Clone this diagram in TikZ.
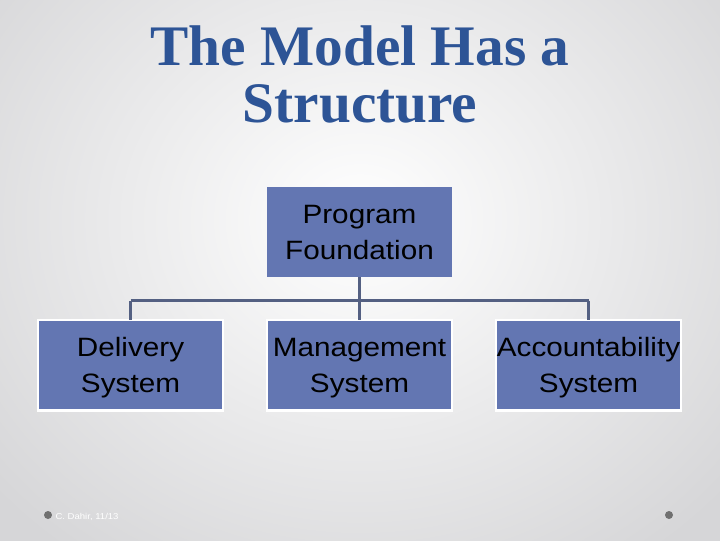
\documentclass[tikz,border=0pt]{standalone}
\usepackage{fontspec}
\setmainfont{Liberation Sans}
\newfontfamily\titlefont{Liberation Serif}
\newfontfamily\boxfont[FakeStretch=1.12]{Liberation Sans}
\usetikzlibrary{positioning}

\definecolor{boxblue}{RGB}{99,118,178}
\definecolor{linkgray}{RGB}{84,96,130}
\definecolor{titleblue}{RGB}{45,84,150}
\definecolor{bggray}{RGB}{214,214,216}
\definecolor{dotgray}{RGB}{112,112,112}

\tikzset{every picture/.style={line width=0.75pt}}
\tikzset{
  orgbox/.style={fill=boxblue, text=black, align=center, inner sep=0pt, outer sep=0pt, text depth=-4pt,
    minimum width=139pt, minimum height=68pt, font=\boxfont\fontsize{19.9}{27}\selectfont},
  subbox/.style={orgbox, draw=white, line width=1.9pt},
  titletext/.style={text=titleblue, inner sep=0pt, anchor=base, font=\titlefont\bfseries\fontsize{43}{43}\selectfont},
  link/.style={draw=linkgray, line width=2.2pt},
  footdot/.style={circle, fill=dotgray, inner sep=0pt, minimum size=6pt},
}

\begin{document}
\begin{tikzpicture}[x=0.75pt,y=0.75pt,yscale=-1,xscale=1]
		%background
		\begin{scope}
		\clip (0,0) rectangle (720,540);
		\shade [inner color=white, outer color=bggray] (-120,-200) rectangle (840,640);
		\end{scope}
		\useasboundingbox (0,0) rectangle (720,540);
		
		%title
		\node [titletext] (title1) at (360,65) {The Model Has a};
		\node [titletext] (title2) at (360,122) {Structure};
		
		%Shape: Rectangle boxes
		\node [orgbox] (found) at (359.5,232) {Program\\Foundation};
		\node [subbox, below=32pt of found] (mgmt) {Management\\System};
		\node [subbox, left=32.75pt of mgmt] (deliv) {Delivery\\System};
		\node [subbox, right=32.75pt of mgmt] (acct) {Accountability\\System};
		
		%connectors
		\coordinate (bus) at (359.5,300.5);
		\draw [link] (found.south) -- (mgmt.north);
		\draw [link] (deliv.north |- bus) -- (acct.north |- bus);
		\draw [link] (deliv.north |- bus) -- (deliv.north);
		\draw [link] (acct.north |- bus) -- (acct.north);
		
		%footer
		\node [footdot] (dotl) at (48,515) {};
		\node [anchor=base west, inner sep=0pt, text=white, font=\boxfont\fontsize{6.4}{8}\selectfont] (credit) at (55,519) {C. Dahir, 11/13};
		\node [footdot] (dotr) at (669,515) {};
		
	\end{tikzpicture}
\end{document}
